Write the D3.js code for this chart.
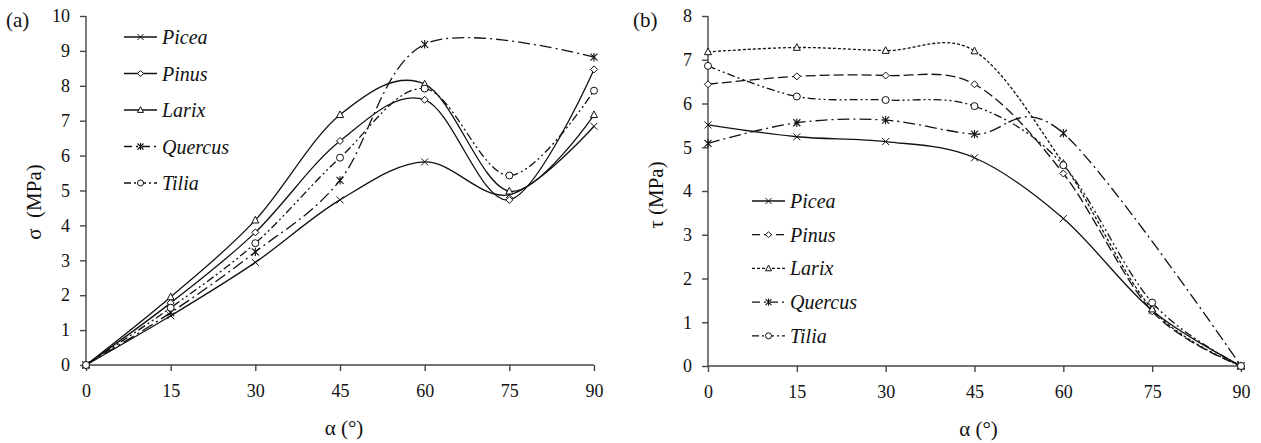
<!DOCTYPE html>
<html>
<head>
<meta charset="utf-8">
<script src="https://cdn.jsdelivr.net/npm/d3@7"></script>
<style>
  body { margin: 0; background: #fff; }
</style>
</head>
<body>
<svg id="chart" width="1261" height="443"></svg>
<script>
// angles (degrees)
const angles = [0, 15, 30, 45, 60, 75, 90];
const species = ["Picea", "Pinus", "Larix", "Quercus", "Tilia"];

// (a) sigma, MPa  (null = not measured)
const sigmaPicea   = [0, 1.41, 2.94, 4.73, 5.82, 4.88, 6.84];
const sigmaPinus   = [0, 1.78, 3.80, 6.42, 7.60, 4.73, 8.47];
const sigmaLarix   = [0, 1.95, 4.15, 7.17, 8.05, 4.98, 7.17];
const sigmaQuercus = [0, 1.50, 3.24, 5.29, 9.19, null, 8.82];
const sigmaTilia   = [0, 1.64, 3.49, 5.94, 7.92, 5.43, 7.86];

// (b) tau, MPa
const tauPicea   = [5.51, 5.24, 5.13, 4.76, 3.37, 1.27, 0];
const tauPinus   = [6.44, 6.62, 6.64, 6.44, 4.40, 1.25, 0];
const tauLarix   = [7.18, 7.28, 7.21, 7.20, 4.63, 1.30, 0];
const tauQuercus = [5.09, 5.56, 5.62, 5.30, 5.32, null, 0];
const tauTilia   = [6.86, 6.16, 6.08, 5.94, 4.59, 1.45, 0];

const xTicks = [0, 15, 30, 45, 60, 75, 90];
const sigmaTicks = d3.range(0, 11);
const tauTicks = d3.range(0, 9);

const svg = d3.select("#chart");
const serif = "Liberation Serif";

const symbols = {
  Picea: "cross", Pinus: "diamond", Larix: "triangle", Quercus: "star", Tilia: "circle"
};

function marker(g, type, size) {
  const s = size;
  if (type === "cross") {
    g.append("path").attr("d", `M${-s},${-s}L${s},${s}M${-s},${s}L${s},${-s}`)
      .attr("stroke", "#111").attr("stroke-width", 1);
  } else if (type === "diamond") {
    g.append("path").attr("d", `M0,${-s}L${s},0L0,${s}L${-s},0Z`)
      .attr("fill", "#fff").attr("stroke", "#111").attr("stroke-width", 1);
  } else if (type === "triangle") {
    g.append("path").attr("d", `M0,${-s * 1.1}L${s},${s * 0.8}L${-s},${s * 0.8}Z`)
      .attr("fill", "#fff").attr("stroke", "#111").attr("stroke-width", 1);
  } else if (type === "star") {
    g.append("path").attr("d", `M${-s},${-s}L${s},${s}M${-s},${s}L${s},${-s}M0,${-s * 1.2}L0,${s * 1.2}`)
      .attr("stroke", "#111").attr("stroke-width", 1.1);
  } else {
    g.append("circle").attr("r", s).attr("fill", "#fff")
      .attr("stroke", "#111").attr("stroke-width", 1);
  }
}

function panel(opt) {
  const x = d3.scaleLinear().domain([0, 90]).range([opt.x0, opt.x1]);
  const y = d3.scaleLinear().domain([0, opt.ymax]).range([opt.y0, opt.y1]);
  const g = svg.append("g").attr("font-family", serif).attr("fill", "#111");

  // axes
  const ax = g.append("g").attr("transform", `translate(0,${opt.y0})`)
    .call(d3.axisBottom(x).tickValues(xTicks).tickSize(6).tickPadding(13));
  const ay = g.append("g").attr("transform", `translate(${opt.x0},0)`)
    .call(d3.axisLeft(y).tickValues(opt.yTicks).tickSize(6).tickPadding(10));
  [ax, ay].forEach(a => {
    a.attr("font-family", serif);
    a.select(".domain").attr("stroke", "#444").attr("stroke-width", 1.4);
    a.selectAll(".tick line").attr("stroke", "#444").attr("stroke-width", 1.4);
    a.selectAll(".tick text").attr("font-size", 18).attr("fill", "#111");
  });
  ax.select(".domain").attr("d", `M${opt.x0},0H${opt.x1}`);
  ay.select(".domain").attr("d", `M0,${opt.y0}V${opt.y1}`);

  // series
  const line = d3.line().x(d => x(d[0])).y(d => y(d[1]))
    .curve(d3.curveCardinal.tension(0));
  opt.series.forEach((vals, i) => {
    const pts = angles.map((a, j) => [a, vals[j]]).filter(d => d[1] !== null);
    g.append("path").datum(pts).attr("d", line)
      .attr("fill", "none").attr("stroke", "#111").attr("stroke-width", 1.3)
      .attr("stroke-dasharray", opt.dashes[i]);
    pts.forEach(d => {
      const m = g.append("g").attr("transform", `translate(${x(d[0])},${y(d[1])})`);
      marker(m, symbols[species[i]], 3.5);
    });
  });

  // legend
  species.forEach((name, i) => {
    const ly = opt.legY + i * opt.legStep;
    const lg = g.append("g").attr("transform", `translate(${opt.legX},${ly})`);
    lg.append("line").attr("x1", 0).attr("x2", 33).attr("y1", 0).attr("y2", 0)
      .attr("stroke", "#111").attr("stroke-width", 1.3)
      .attr("stroke-dasharray", opt.legDashes[i]);
    const m = lg.append("g").attr("transform", "translate(16.5,0)");
    marker(m, symbols[name], 3);
    lg.append("text").attr("x", 38).attr("y", 7).attr("font-size", 20)
      .attr("font-style", "italic").text(name);
  });

  // titles
  g.append("text").attr("x", (opt.x0 + opt.x1) / 2 + 4).attr("y", opt.y0 + 70)
    .attr("text-anchor", "middle").attr("font-size", 21).text("α (°)");
  g.append("text")
    .attr("transform", `translate(${opt.x0 - 45},${opt.yLabelY}) rotate(-90)`)
    .attr("text-anchor", "middle").attr("font-size", 21)
    .attr("xml:space", "preserve").text(opt.yLabel);
  g.append("text").attr("x", opt.tagX).attr("y", 27).attr("font-size", 21).text(opt.tag);
}

panel({
  x0: 86, x1: 594, y0: 365, y1: 16, ymax: 10, yTicks: sigmaTicks,
  series: [sigmaPicea, sigmaPinus, sigmaLarix, sigmaQuercus, sigmaTilia],
  dashes: [null, null, null, "12,4,2,4", "8,3,2,3,2,3"],
  legDashes: [null, null, null, "8,4,2,4", "7,3,2,3"],
  legX: 124, legY: 37, legStep: 36.5,
  yLabel: "σ  (MPa)", yLabelY: 202, tag: "(a)", tagX: 6
});

panel({
  x0: 708, x1: 1241, y0: 366, y1: 16, ymax: 8, yTicks: tauTicks,
  series: [tauPicea, tauPinus, tauLarix, tauQuercus, tauTilia],
  dashes: [null, "10,4", "3,2", "12,4,2,4", "8,3,2,3,2,3"],
  legDashes: [null, "8,4", "3,2", "8,4,2,4", "7,3,2,3"],
  legX: 752, legY: 201, legStep: 33.7,
  yLabel: "τ (MPa)", yLabelY: 195, tag: "(b)", tagX: 633
});
</script>
</body>
</html>
